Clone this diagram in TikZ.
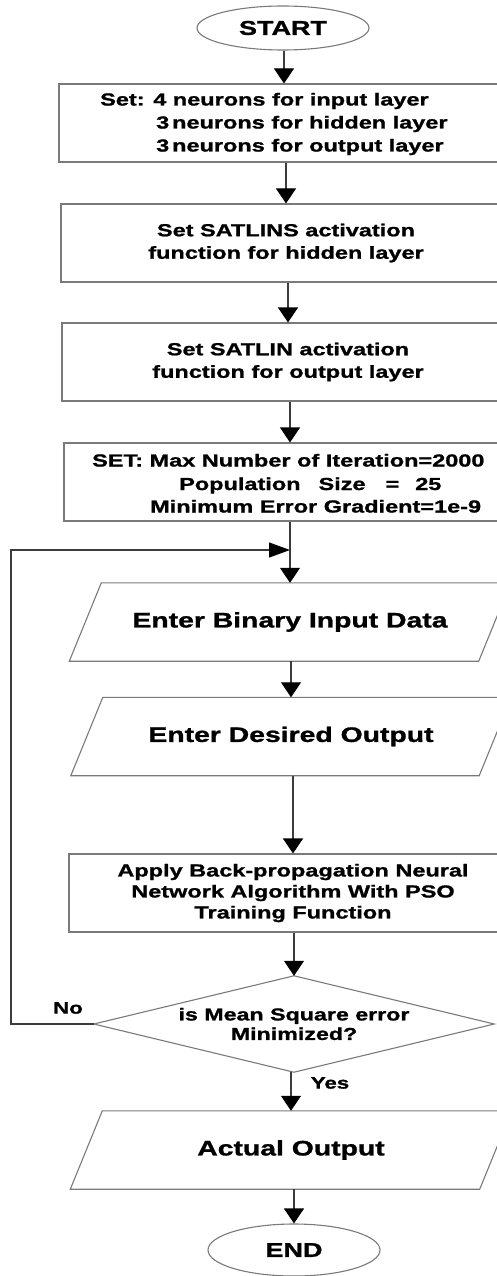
\documentclass[tikz,border=0pt]{standalone}
\usepackage{fontspec}
\newfontfamily\flowfont{Liberation Sans}[FakeStretch=1.35, FakeBold=1.2]
\usetikzlibrary{shapes.geometric,arrows.meta}
\definecolor{boxgray}{HTML}{7A7A7A}
\definecolor{linegray}{HTML}{3C3C3C}
\tikzset{
  frame/.style={draw=boxgray, line width=1.1pt},
  boxfont/.style={font=\flowfont\bfseries\fontsize{17.4}{22.5}\selectfont},
  procbox/.style={frame, boxfont, rectangle, inner sep=0pt, minimum height=78pt, align=center},
  txtline/.style={boxfont, inner sep=0pt, anchor=base west},
  term/.style={frame, ellipse, inner sep=0pt, font=\flowfont\bfseries\fontsize{20}{24}\selectfont},
  iobody/.style={rectangle, inner sep=0pt, minimum height=78pt, font=\flowfont\bfseries\fontsize{21}{25}\selectfont},
  lbl/.style={inner sep=0pt, font=\flowfont\bfseries\fontsize{16.5}{20}\selectfont},
  flow/.style={draw=linegray, line width=1.1pt, -{Triangle[width=20pt,length=15pt,color=black]}},
  flowright/.style={draw=linegray, line width=1.1pt, -{Triangle[width=15pt,length=21pt,color=black]}},
}
% outline of an input/output parallelogram around a rectangular node
\newcommand\ioframe[1]{%
  \draw[frame] ([xshift=16pt]#1.north west) -- ([xshift=16pt]#1.north east)
    -- ([xshift=-16pt]#1.south east) -- ([xshift=-16pt]#1.south west) -- cycle;}
\begin{document}
\begin{tikzpicture}[x=1pt,y=-1pt]
\useasboundingbox (0,0) rectangle (497,1276);
\clip (0,0) rectangle (497,1276);
\fill[white] (0,0) rectangle (497,1276);

% terminals, processes, inputs and the decision
\node[term, minimum width=172pt, minimum height=44pt] (start) at (283,28) {START};

\node[procbox, minimum width=450pt] (set1) at (284,123) {};
\node[txtline] (s1a) at (100,105.5) {Set: 4 neurons for input layer};
\node[txtline] (s1b) at (156,128.5) {3\,neurons for hidden layer};
\node[txtline] (s1c) at (156,151.5) {3\,neurons for output layer};

\node[procbox, minimum width=450pt] (set2) at (286,243)
  {Set SATLINS activation\\function for hidden layer};

\node[procbox, minimum width=452pt] (set3) at (288,362)
  {Set SATLIN activation\\function for output layer};

\node[procbox, minimum width=452pt] (set4) at (290,482) {};
\node[txtline] (s4a) at (92,466.5) {SET: Max Number of Iteration=2000};
\node[txtline] (s4b) at (179,490) {Population\hspace{18pt}Size\hspace{20pt}=\hspace{16pt}25};
\node[txtline] (s4c) at (150,512.5) {Minimum Error Gradient=1e-9};

\node[iobody, minimum width=409pt] (in1) at (290,622) {Enter Binary Input Data};
\ioframe{in1}

\node[iobody, minimum width=408pt] (in2) at (291,736.5) {Enter Desired Output};
\ioframe{in2}

\node[procbox, minimum width=448pt, font=\flowfont\bfseries\fontsize{17.4}{21}\selectfont] (set5) at (293,893)
  {Apply Back-propagation Neural\\Network Algorithm With PSO\\Training Function};

\node[boxfont, inner sep=0pt, minimum width=400pt, minimum height=96pt, align=center,
      font=\flowfont\bfseries\fontsize{17.2}{19.5}\selectfont] (dec) at (294,1024)
  {is Mean Square error\\Minimized?};
\draw[frame] (dec.north) -- (dec.east) -- (dec.south) -- (dec.west) -- cycle;

\node[iobody, minimum width=409pt] (out) at (291,1150) {Actual Output};
\ioframe{out}

\node[term, minimum width=172pt, minimum height=52pt] (end) at (294,1250) {END};

\node[lbl] (nolbl) at (68,1008) {No};
\node[lbl] (yeslbl) at (330,1083) {Yes};

% connectors
\draw[flow] (start.south -| set1.north) -- (set1.north);
\draw[flow] (set1.south -| set2.north) -- (set2.north);
\draw[flow] (set2.south -| set3.north) -- (set3.north);
\draw[flow] (set3.south -| set4.north) -- (set4.north);
\draw[flow] (set4.south -| in1.north) -- (in1.north);
\draw[flow] (in1.south -| in2.north) -- (in2.north);
\draw[flow] (in2.south -| set5.north) -- (set5.north);
\draw[flow] (set5.south -| dec.north) -- (dec.north);
\draw[flow] (dec.south -| out.north) -- (out.north);
\draw[flow] (out.south -| end.north) -- (end.north);

% "No" branch back to the data entry
\coordinate (join) at (in1.north |- 0,550);
\coordinate (loopcorner) at (11,550);
\draw[flowright] (dec.west) -| (loopcorner) -- (join);
\end{tikzpicture}
\end{document}
